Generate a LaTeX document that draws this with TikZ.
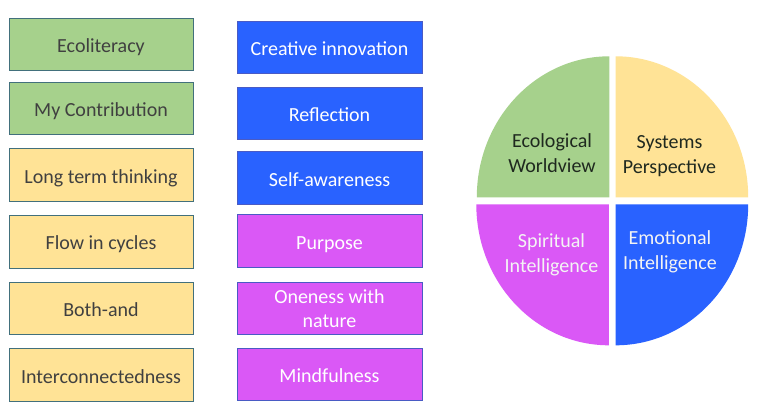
\documentclass[tikz,border=0pt]{standalone}
\usepackage{fontspec}
\setmainfont{Carlito}
\definecolor{cgreen}{HTML}{A6D18C}
\definecolor{cyellow}{HTML}{FFE396}
\definecolor{cblue}{HTML}{2962FF}
\definecolor{cpurple}{HTML}{DA58F6}
\definecolor{leftline}{HTML}{42707C}
\definecolor{midline}{HTML}{4A5BC4}
\definecolor{darktext}{HTML}{404040}
\definecolor{pietext}{HTML}{1F291F}
\definecolor{lighttext}{HTML}{F4F4F4}
\tikzset{
  boxbase/.style={minimum height=52.5pt, inner sep=0pt, font=\fontsize{20}{24.5}\selectfont, align=center},
  oneline/.style={text height=17.4pt, text depth=1pt},
  lbox/.style={boxbase, oneline, draw=leftline, line width=0.9pt, minimum width=184pt, text=darktext},
  mboxtwo/.style={boxbase, draw=midline, line width=0.7pt, minimum width=185pt, text=white},
  mbox/.style={mboxtwo, oneline},
  pielabel/.style={inner sep=0pt, align=center, font=\fontsize{20}{25}\selectfont},
}
\begin{document}
\begin{tikzpicture}[x=1pt,y=-1pt]
\useasboundingbox[fill=white] (0,0) rectangle (757,408);
% left column
\node[lbox, fill=cgreen]  (eco)  at (101,44.5)  {Ecoliteracy};
\node[lbox, fill=cgreen]  (myc)  at (101,108.3) {My Contribution};
\node[lbox, fill=cyellow] (long) at (101,175)   {Long term thinking};
\node[lbox, fill=cyellow] (flow) at (101,241.7) {Flow in cycles};
\node[lbox, fill=cyellow] (both) at (101,308.5) {Both-and};
\node[lbox, fill=cyellow] (inter) at (101,375)  {Interconnectedness};
% middle column
\node[mbox, fill=cblue]   (crea) at (329.5,47.5)  {Creative innovation};
\node[mbox, fill=cblue]   (refl) at (329.5,113.5) {Reflection};
\node[mbox, fill=cblue]   (self) at (329.5,178)   {Self-awareness};
\node[mbox, fill=cpurple] (purp) at (329.5,241)   {Purpose};
\node[mboxtwo, fill=cpurple] (one)  at (329.5,308.5) {Oneness with\\nature};
\node[mbox, fill=cpurple] (mind) at (329.5,374.5) {Mindfulness};
% pie chart
\def\rx{132.5}
\def\ry{141}
\coordinate (cg) at (609.3,197.3);
\coordinate (cy) at (615.7,197.3);
\coordinate (cp) at (608.8,204.3);
\coordinate (cb) at (615.7,204.3);
\fill[cgreen]  (cg) -- ++(-\rx,0) arc[start angle=180, end angle=270, x radius=\rx, y radius=\ry] -- cycle;
\fill[cyellow] (cy) -- ++(0,-\ry) arc[start angle=270, end angle=360, x radius=\rx, y radius=\ry] -- cycle;
\fill[cblue]   (cb) -- ++(\rx,0) arc[start angle=0, end angle=90, x radius=\rx, y radius=\ry] -- cycle;
\fill[cpurple] (cp) -- ++(0,\ry) arc[start angle=90, end angle=180, x radius=\rx, y radius=\ry] -- cycle;
\node[pielabel, text=pietext]   (ew) at (552,153.5)   {Ecological\\Worldview};
\node[pielabel, text=pietext]   (sp) at (669.5,156.5) {Systems\\Perspective};
\node[pielabel, text=lighttext] (si) at (551.5,255) {Spiritual\\Intelligence};
\node[pielabel, text=lighttext] (ei) at (670,251.5) {Emotional\\Intelligence};
\end{tikzpicture}
\end{document}
